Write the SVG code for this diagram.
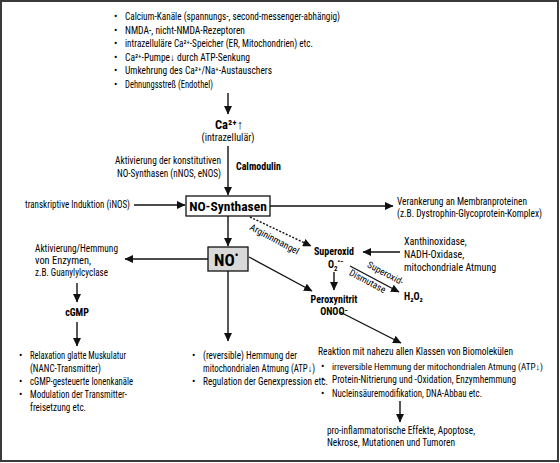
<svg xmlns="http://www.w3.org/2000/svg" width="560" height="463" viewBox="0 0 560 463">
<style>
text{font-family:"Roboto Condensed","Liberation Sans",Arial,sans-serif;font-size:10px;fill:#000}
.b{font-weight:bold}
.c{text-anchor:middle}
.e{text-anchor:end}
.s{font-size:9.5px}
.sup{font-size:7px}
.con line{stroke:#111;stroke-width:1.4;fill:none}
.box{fill:#fff;stroke:#111;stroke-width:1.3}
</style>
<defs>
<marker id="ah" markerUnits="userSpaceOnUse" markerWidth="9" markerHeight="8" refX="8" refY="4" orient="auto">
<path d="M0,0 L8.5,4 L0,8 Z" fill="#111"/>
</marker>
</defs>
<rect x="1" y="1" width="557" height="460" fill="#fff" stroke="#3a3a3a" stroke-width="2"/>

<g class="con">
<line x1="228" y1="93" x2="228" y2="114" marker-end="url(#ah)"/>
<line x1="228" y1="146" x2="228" y2="195" marker-end="url(#ah)"/>
<line x1="134" y1="205" x2="185" y2="205" marker-end="url(#ah)"/>
<line x1="270" y1="206" x2="393" y2="206" marker-end="url(#ah)"/>
<line x1="228" y1="216" x2="228" y2="246" marker-end="url(#ah)"/>
<line x1="208" y1="259" x2="125" y2="259" marker-end="url(#ah)"/>
<line x1="77" y1="283" x2="77" y2="302" marker-end="url(#ah)"/>
<line x1="77" y1="322" x2="77" y2="346" marker-end="url(#ah)"/>
<line x1="228" y1="271" x2="228" y2="341" marker-end="url(#ah)"/>
<line x1="250" y1="217" x2="311" y2="246" stroke-dasharray="2,1.6" marker-end="url(#ah)"/>
<line x1="400" y1="252" x2="363" y2="252" marker-end="url(#ah)"/>
<line x1="334" y1="272" x2="334" y2="290" marker-end="url(#ah)"/>
<line x1="249" y1="257" x2="312" y2="291" marker-end="url(#ah)"/>
<line x1="350" y1="266" x2="399" y2="292" marker-end="url(#ah)"/>
<line x1="340" y1="312" x2="401" y2="343" marker-end="url(#ah)"/>
<line x1="400" y1="401" x2="400" y2="422" marker-end="url(#ah)"/>
</g>

<g id="ca-quellen">
<text x="114" y="20">•</text><text x="125" y="20" textLength="215" lengthAdjust="spacingAndGlyphs">Calcium-Kanäle (spannungs-, second-messenger-abhängig)</text>
<text x="114" y="33.5">•</text><text x="125" y="33.5" textLength="120" lengthAdjust="spacingAndGlyphs">NMDA-, nicht-NMDA-Rezeptoren</text>
<text x="114" y="47">•</text><text x="125" y="47" textLength="188" lengthAdjust="spacingAndGlyphs">intrazelluläre Ca²⁺-Speicher (ER, Mitochondrien) etc.</text>
<text x="114" y="60.5">•</text><text x="125" y="60.5" textLength="125" lengthAdjust="spacingAndGlyphs">Ca²⁺-Pumpe↓ durch ATP-Senkung</text>
<text x="114" y="74">•</text><text x="125" y="74" textLength="147" lengthAdjust="spacingAndGlyphs">Umkehrung des Ca²⁺/Na⁺-Austauschers</text>
<text x="114" y="87.5">•</text><text x="125" y="87.5" textLength="88" lengthAdjust="spacingAndGlyphs">Dehnungsstreß (Endothel)</text>
</g>

<g id="ca">
<text class="b c" x="229" y="129" style="font-size:12.5px">Ca²⁺↑</text>
<text class="c" x="228" y="141" textLength="53" lengthAdjust="spacingAndGlyphs">(intrazellulär)</text>
</g>

<g id="konstitutiv">
<text class="e" x="221" y="164" textLength="106" lengthAdjust="spacingAndGlyphs">Aktivierung der konstitutiven</text>
<text class="e" x="221" y="177" textLength="104" lengthAdjust="spacingAndGlyphs">NO-Synthasen (nNOS, eNOS)</text>
<text class="b" x="236" y="170" textLength="45" lengthAdjust="spacingAndGlyphs">Calmodulin</text>
</g>

<g id="nos">
<rect class="box" x="186" y="196" width="84" height="20"/>
<text class="b c" x="228" y="211" style="font-size:13.5px">NO-Synthasen</text>
</g>

<g id="inos">
<text x="25" y="208" textLength="105" lengthAdjust="spacingAndGlyphs">transkriptive Induktion (iNOS)</text>
</g>

<g id="verankerung">
<text x="397" y="205" textLength="130" lengthAdjust="spacingAndGlyphs">Verankerung an Membranproteinen</text>
<text x="397" y="217" textLength="145" lengthAdjust="spacingAndGlyphs">(z.B. Dystrophin-Glycoprotein-Komplex)</text>
</g>

<g id="no">
<rect x="208" y="247" width="40" height="24" fill="#d9d9d9" stroke="#111" stroke-width="1.3"/>
<text class="b" x="214" y="266" style="font-size:17px">NO<tspan style="font-size:10px" dy="-7">•</tspan></text>
</g>

<g id="enzyme">
<text x="35" y="252" textLength="83" lengthAdjust="spacingAndGlyphs">Aktivierung/Hemmung</text>
<text x="35" y="264" textLength="56" lengthAdjust="spacingAndGlyphs">von Enzymen,</text>
<text x="35" y="276" textLength="73" lengthAdjust="spacingAndGlyphs">z.B. Guanylylcyclase</text>
</g>

<g id="cgmp">
<text class="b c" x="77" y="316">cGMP</text>
</g>

<g id="cgmp-effekte">
<text x="19" y="358.5">•</text><text x="30" y="358.5" textLength="96" lengthAdjust="spacingAndGlyphs">Relaxation glatte Muskulatur</text>
<text x="30" y="371.5" textLength="71" lengthAdjust="spacingAndGlyphs">(NANC-Transmitter)</text>
<text x="19" y="384.5">•</text><text x="30" y="384.5" textLength="103" lengthAdjust="spacingAndGlyphs">cGMP-gesteuerte  Ionenkanäle</text>
<text x="19" y="397.5">•</text><text x="30" y="397.5" textLength="97" lengthAdjust="spacingAndGlyphs">Modulation der Transmitter-</text>
<text x="30" y="410.5" textLength="56" lengthAdjust="spacingAndGlyphs">freisetzung etc.</text>
</g>

<g id="no-effekte">
<text x="192" y="358.5">•</text><text x="203" y="358.5" textLength="94" lengthAdjust="spacingAndGlyphs">(reversible) Hemmung der</text>
<text x="203" y="371.5" textLength="112" lengthAdjust="spacingAndGlyphs">mitochondrialen Atmung (ATP↓)</text>
<text x="192" y="384.5">•</text><text x="203" y="384.5" textLength="125" lengthAdjust="spacingAndGlyphs">Regulation der Genexpression etc.</text>
</g>

<g id="arginin">
<text class="c s" transform="translate(273,242) rotate(28)">Argininmangel</text>
</g>

<g id="superoxid">
<text class="b c" x="334" y="255">Superoxid</text>
<text class="b" x="328" y="268">O<tspan class="sup" dy="2.5">2</tspan><tspan class="sup" dy="-7">•−</tspan></text>
</g>

<g id="quellen-o2">
<text x="404" y="245">Xanthinoxidase,</text>
<text x="404" y="258">NADH-Oxidase,</text>
<text x="404" y="271">mitochondriale Atmung</text>
</g>

<g id="dismutase">
<text class="c s" transform="translate(384,276) rotate(28)">Superoxid-</text>
<text class="c s" transform="translate(366,284) rotate(28)">Dismutase</text>
</g>

<g id="h2o2">
<text class="b" x="404" y="300">H₂O₂</text>
</g>

<g id="peroxynitrit">
<text class="b c" x="334" y="303">Peroxynitrit</text>
<text class="b c" x="334" y="315">ONOO⁻</text>
</g>

<g id="onoo-effekte">
<text x="318" y="355" textLength="195" lengthAdjust="spacingAndGlyphs">Reaktion mit nahezu allen Klassen von Biomolekülen</text>
<text x="321" y="369.5">•<tspan x="332" style="font-size:9.4px" textLength="211" lengthAdjust="spacingAndGlyphs">irreversible Hemmung der mitochondrialen Atmung (ATP↓)</tspan></text>
<text x="321" y="383">•<tspan x="332" textLength="184" lengthAdjust="spacingAndGlyphs">Protein-Nitrierung und -Oxidation, Enzymhemmung</tspan></text>
<text x="321" y="396.5">•<tspan x="332" textLength="150" lengthAdjust="spacingAndGlyphs">Nucleinsäuremodifikation, DNA-Abbau etc.</tspan></text>
</g>

<g id="folgen">
<text x="327" y="434" textLength="148" lengthAdjust="spacingAndGlyphs">pro-inflammatorische Effekte, Apoptose,</text>
<text x="327" y="446" textLength="128" lengthAdjust="spacingAndGlyphs">Nekrose, Mutationen und Tumoren</text>
</g>
</svg>
